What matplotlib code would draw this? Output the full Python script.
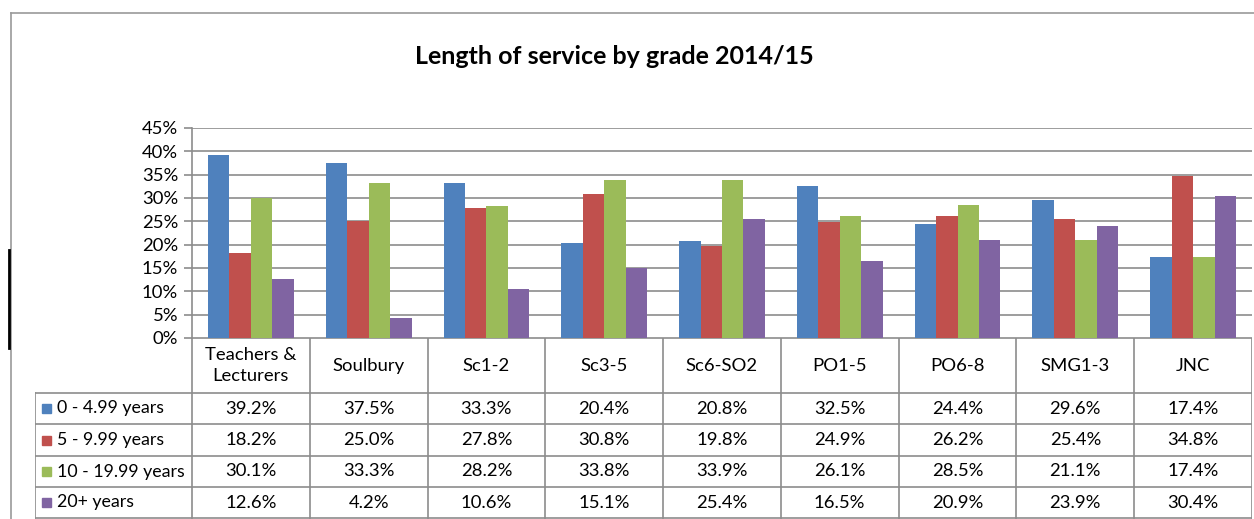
"""
plot.py - Length of service by grade 2014/15
Excel style clustered column chart with a data table underneath
"""

import matplotlib
matplotlib.use('Agg')

import numpy as np
import matplotlib.pyplot as plt
from matplotlib.lines import Line2D
from matplotlib.patches import Rectangle

# ---- data ----
grades = ['Teachers &\nLecturers', 'Soulbury', 'Sc1-2', 'Sc3-5', 'Sc6-SO2',
          'PO1-5', 'PO6-8', 'SMG1-3', 'JNC']
series_names = ['0 - 4.99 years', '5 - 9.99 years', '10 - 19.99 years', '20+ years']
yrs_0_5 = [39.2, 37.5, 33.3, 20.4, 20.8, 32.5, 24.4, 29.6, 17.4]
yrs_5_10 = [18.2, 25.0, 27.8, 30.8, 19.8, 24.9, 26.2, 25.4, 34.8]
yrs_10_20 = [30.1, 33.3, 28.2, 33.8, 33.9, 26.1, 28.5, 21.1, 17.4]
yrs_20_plus = [12.6, 4.2, 10.6, 15.1, 25.4, 16.5, 20.9, 23.9, 30.4]
y_ticks = [0, 5, 10, 15, 20, 25, 30, 35, 40, 45]

# ---- style ----
COLORS = ['#4F81BD', '#C0504D', '#9BBB59', '#8064A2']
C_GRID = '#8C8C8C'
FONT = ['Lato', 'DejaVu Sans']
FS = 13.3
W, H = 1254, 519

plt.rcParams['font.family'] = FONT


def fx(px):
    return px / W


def fy(py):
    return 1 - py / H


fig = plt.figure(figsize=(W / 100, H / 100), dpi=100, facecolor='white')

# chart frame (top + left edge, right side is cut off in the original)
fig.add_artist(Line2D([fx(11), fx(11)], [fy(13), fy(H)], color='#9A9A9A', lw=1.2))
fig.add_artist(Line2D([fx(11), 1], [fy(13), fy(13)], color='#9A9A9A', lw=1.2))
# stray black marker on the left edge
fig.add_artist(Line2D([fx(9), fx(9)], [fy(250), fy(348)], color='black', lw=2))

fig.text(fx(614), fy(57), 'Length of service by grade 2014/15', ha='center',
         va='center', fontsize=18, fontweight='bold')

# ---- bar area ----
PL, PR, PT, PB = 192, 1252, 128, 338
ax = fig.add_axes([fx(PL), fy(PB), fx(PR - PL), (PB - PT) / H])
series = [yrs_0_5, yrs_5_10, yrs_10_20, yrs_20_plus]
x = np.arange(len(grades))
bw = 0.182
for i, vals in enumerate(series):
    ax.bar(x + (i - 1.5) * bw, vals, width=bw, color=COLORS[i], zorder=3)

ax.set_xlim(-0.5, len(grades) - 0.5)
ax.set_ylim(0, 45)
ax.set_yticks(y_ticks)
ax.set_yticklabels([f'{t}%' for t in y_ticks], fontsize=FS)
ax.yaxis.grid(True, color=C_GRID, lw=1.2, zorder=0)
ax.set_xticks([])
for s in ['top', 'right', 'bottom']:
    ax.spines[s].set_visible(False)
ax.spines['left'].set_color(C_GRID)
ax.spines['left'].set_linewidth(1.2)
ax.tick_params(axis='y', direction='out', length=6, width=1.2, color=C_GRID, pad=4)

# ---- data table ----
TL = 35
col_w = (PR - PL) / len(grades)
tab = fig.add_axes([fx(TL), 0, fx(PR - TL), fy(PB)])
tab.set_xlim(TL, PR)
tab.set_ylim(H, PB)
tab.axis('off')

rows_y = [PB, 393, 424, 456, 487, H - 1]
lc = dict(color=C_GRID, lw=1.2)
tab.plot([PL, PR], [PB, PB], **lc)
for yy in rows_y[1:]:
    tab.plot([TL, PR], [yy, yy], **lc)
tab.plot([TL, TL], [rows_y[1], rows_y[-1]], **lc)
for j in range(len(grades) + 1):
    xx = PL + j * col_w
    tab.plot([xx, xx], [PB, rows_y[-1]], **lc)

for j, g in enumerate(grades):
    cx = PL + (j + 0.5) * col_w
    tab.text(cx, (rows_y[0] + rows_y[1]) / 2, g, ha='center', va='center',
             fontsize=FS, linespacing=1.4)
    for i, vals in enumerate(series):
        cy = (rows_y[i + 1] + rows_y[i + 2]) / 2
        tab.text(cx, cy, f'{vals[j]:.1f}%', ha='center', va='center', fontsize=FS)

for i, name in enumerate(series_names):
    cy = (rows_y[i + 1] + rows_y[i + 2]) / 2
    tab.add_patch(Rectangle((42, cy - 4.5), 9, 9, color=COLORS[i]))
    tab.text(57, cy, name, ha='left', va='center', fontsize=12.8)

fig.savefig('out.png', dpi=100)
